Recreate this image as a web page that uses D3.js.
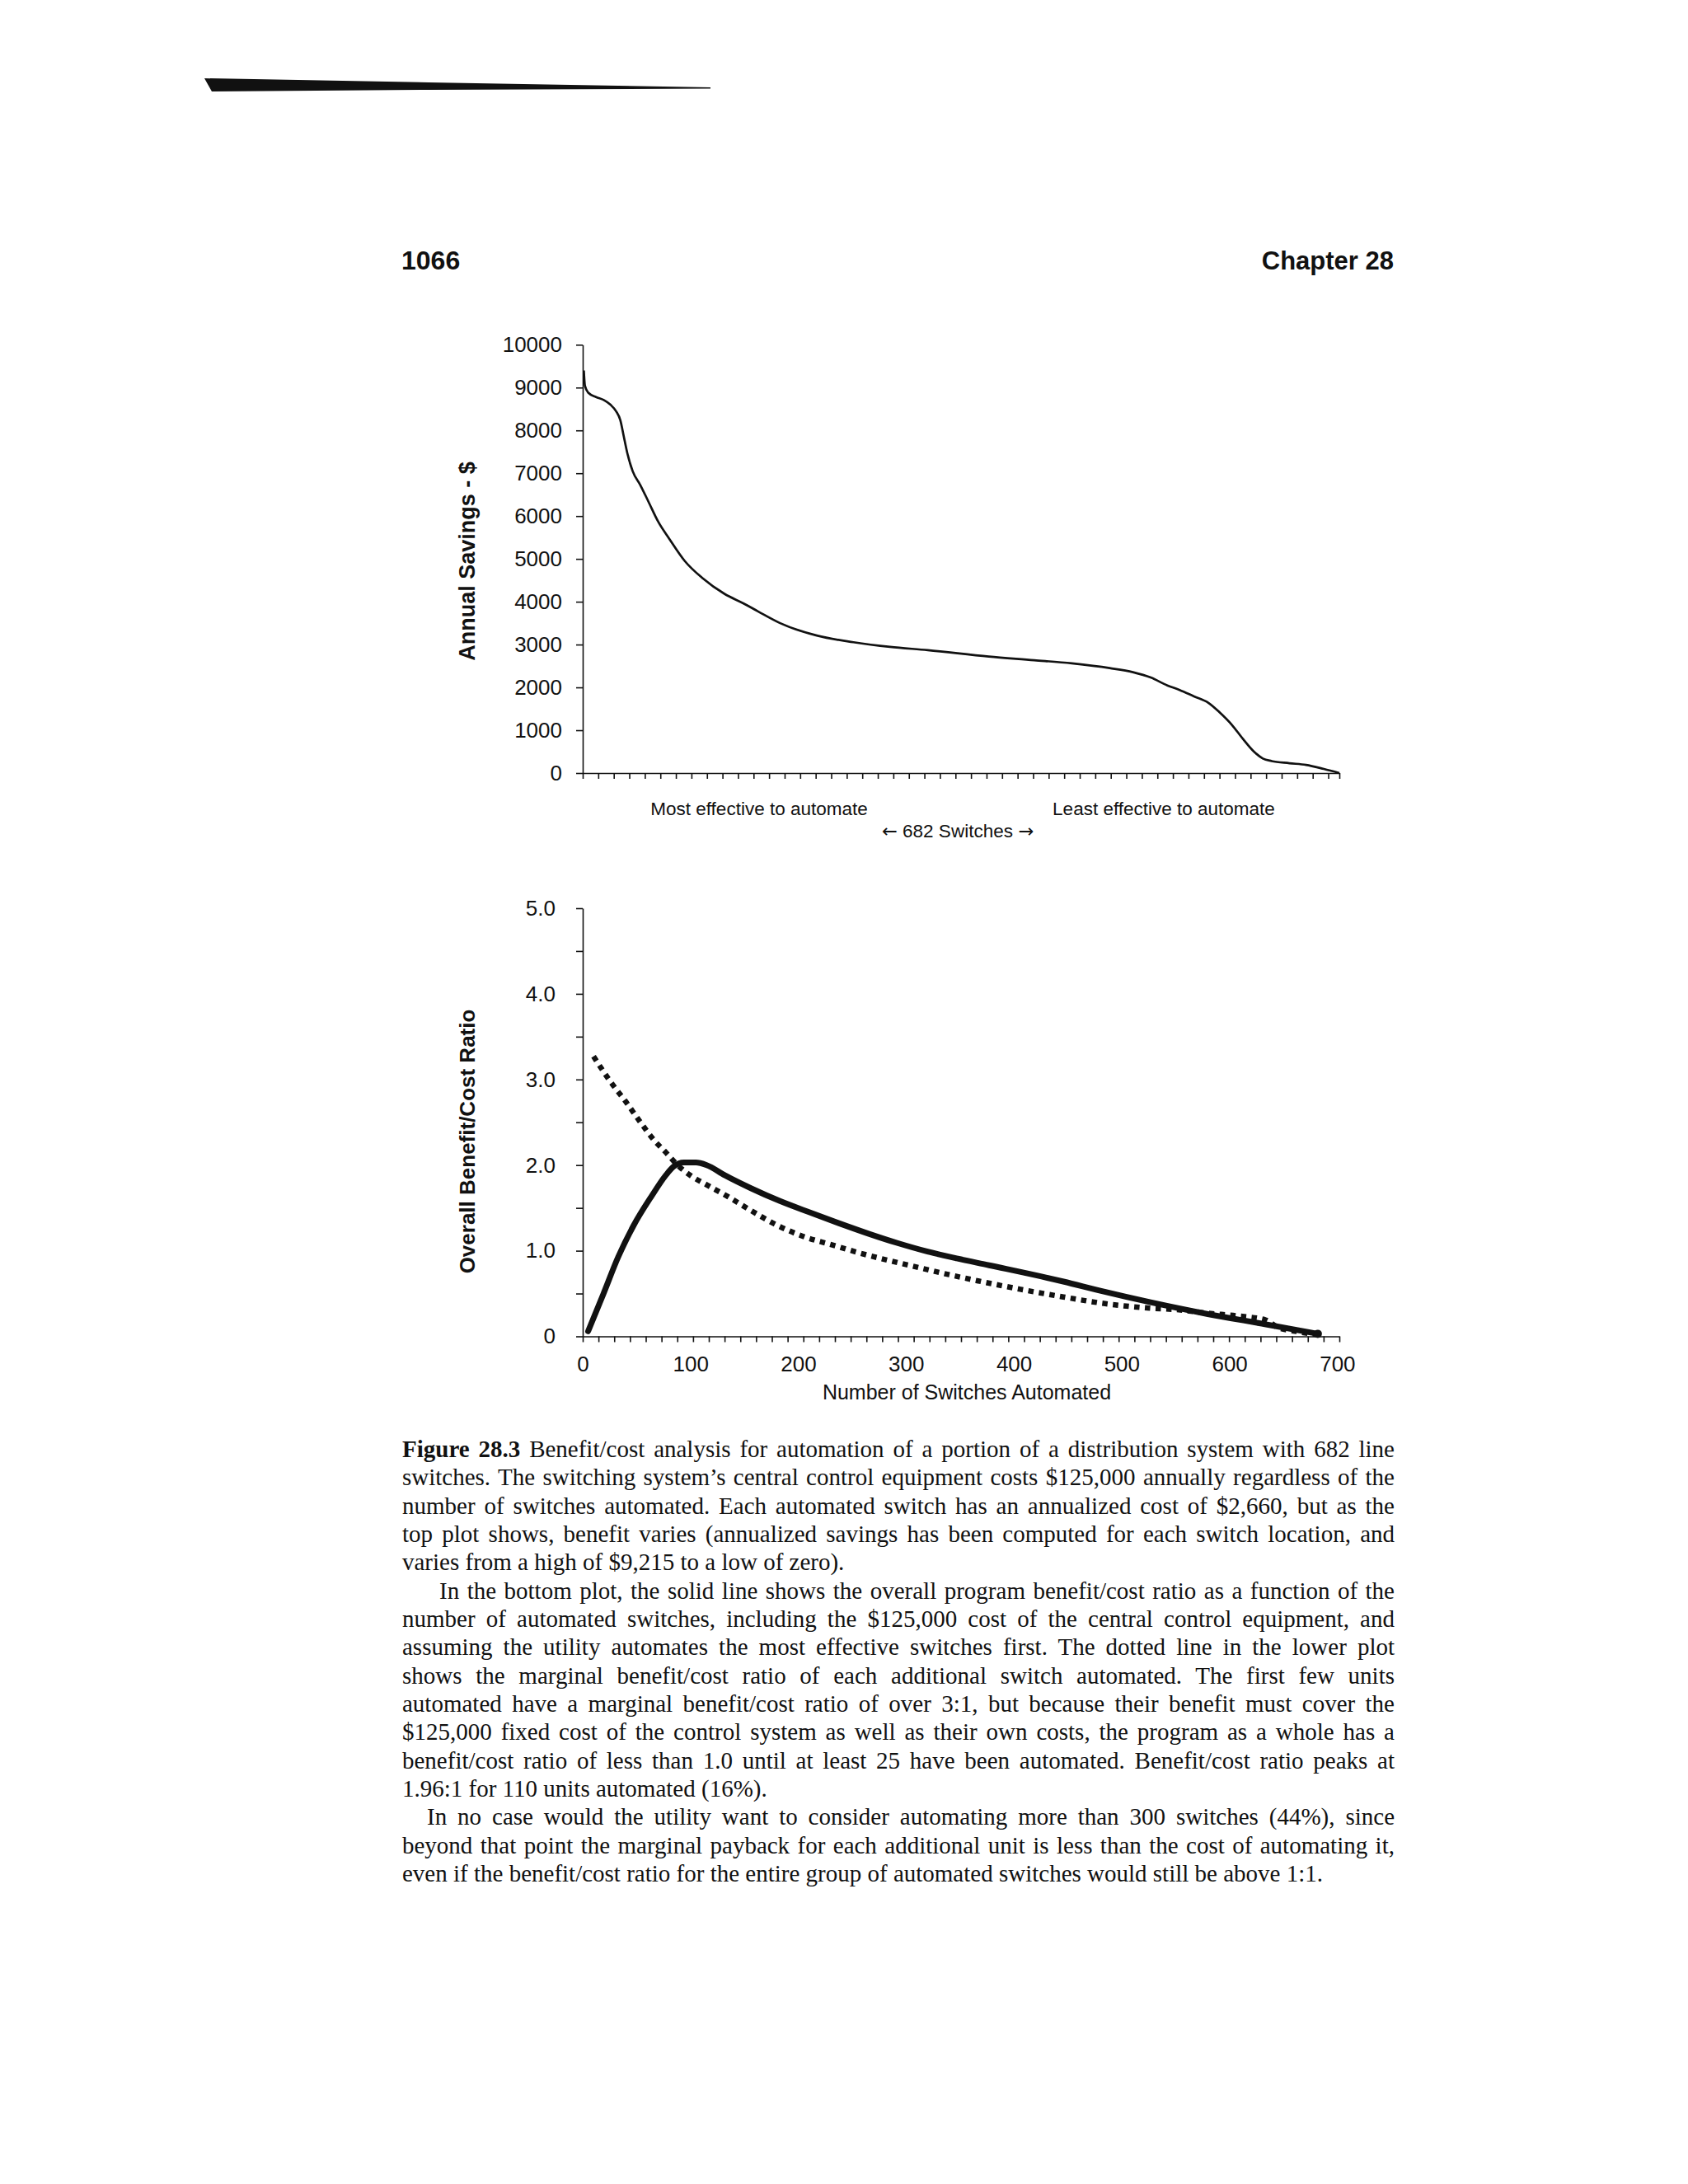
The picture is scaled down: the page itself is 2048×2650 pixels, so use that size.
<!DOCTYPE html>
<html>
<head>
<meta charset="utf-8">
<title>Figure 28.3 Benefit/cost analysis</title>
<script src="https://d3js.org/d3.v7.min.js"></script>
<style>
  body { margin: 0; background: #fff; }
  svg { display: block; }
  .chart text { font-family: "Liberation Sans", Arial, Helvetica, sans-serif; fill: #111; }
  .axis path, .axis line { stroke: #111; stroke-width: 1.6; }
  .axis text { font-size: 26px; }
  .arrow { font-family: "DejaVu Sans", sans-serif; }
  .caption text { font-family: "Liberation Serif", "Times New Roman", serif; font-size: 29px; fill: #111; }
</style>
</head>
<body>
<svg id="page" width="2048" height="2650"></svg>
<script>
// top plot: annual savings per switch, sorted most -> least effective
const switchRank    = [1, 2, 5, 12, 19, 25, 30, 34, 37, 40, 45, 52, 59, 68, 78, 92, 108, 128, 145, 158, 178, 211, 244, 277, 311, 366, 407, 441, 475, 496, 512, 527, 538, 551, 564, 574, 585, 595, 605, 613, 621, 637, 652, 668, 682];
const annualSavings = [9400, 9040, 8880, 8780, 8710, 8600, 8450, 8230, 7860, 7490, 7050, 6720, 6350, 5870, 5470, 4950, 4550, 4180, 3960, 3775, 3500, 3210, 3055, 2945, 2870, 2720, 2635, 2560, 2450, 2355, 2230, 2045, 1940, 1790, 1640, 1420, 1130, 800, 500, 340, 280, 230, 190, 95, 0];
const savingsTicks  = d3.range(0, 10001, 1000);

// bottom plot: overall (solid) and marginal (dotted) benefit/cost ratio
const automatedCount = [5, 19, 33, 47, 64, 77, 84, 94, 105, 115, 132, 156, 183, 210, 238, 265, 292, 320, 347, 377, 446, 481, 526, 580, 634, 682];
const overallRatio   = [0.06, 0.49, 0.93, 1.29, 1.64, 1.88, 1.98, 2.03, 2.03, 2.00, 1.88, 1.73, 1.58, 1.45, 1.32, 1.20, 1.09, 0.99, 0.91, 0.83, 0.64, 0.53, 0.40, 0.26, 0.14, 0.03];
const marginalCount  = [10, 26, 40, 53, 67, 77, 88, 101, 115, 135, 156, 180, 204, 231, 258, 286, 313, 340, 366, 406, 446, 486, 526, 553, 580, 607, 634, 644, 661, 682];
const marginalRatio  = [3.27, 2.97, 2.74, 2.51, 2.28, 2.15, 2.00, 1.87, 1.77, 1.63, 1.47, 1.30, 1.17, 1.07, 0.97, 0.88, 0.80, 0.72, 0.65, 0.55, 0.46, 0.38, 0.33, 0.31, 0.27, 0.24, 0.19, 0.11, 0.06, 0.02];
const ratioTicks     = d3.range(0, 5.01, 0.5);
const countTicks     = [0, 100, 200, 300, 400, 500, 600, 700];

const captionLines = [
  { b: "Figure 28.3", t: "Benefit/cost analysis for automation of a portion of a distribution system with 682 line", j: true },
  { t: "switches. The switching system\u2019s central control equipment costs $125,000 annually regardless of the", j: true },
  { t: "number of switches automated. Each automated switch has an annualized cost of $2,660, but as the", j: true },
  { t: "top plot shows, benefit varies (annualized savings has been computed for each switch location, and", j: true },
  { t: "varies from a high of $9,215 to a low of zero)." },
  { t: "In the bottom plot, the solid line shows the overall program benefit/cost ratio as a function of the", j: true, indent: 45 },
  { t: "number of automated switches, including the $125,000 cost of the central control equipment, and", j: true },
  { t: "assuming the utility automates the most effective switches first. The dotted line in the lower plot", j: true },
  { t: "shows the marginal benefit/cost ratio of each additional switch automated. The first few units", j: true },
  { t: "automated have a marginal benefit/cost ratio of over 3:1, but because their benefit must cover the", j: true },
  { t: "$125,000 fixed cost of the control system as well as their own costs, the program as a whole has a", j: true },
  { t: "benefit/cost ratio of less than 1.0 until at least 25 have been automated. Benefit/cost ratio peaks at", j: true },
  { t: "1.96:1 for 110 units automated (16%)." },
  { t: "In no case would the utility want to consider automating more than 300 switches (44%), since", j: true, indent: 30 },
  { t: "beyond that point the marginal payback for each additional unit is less than the cost of automating it,", j: true },
  { t: "even if the benefit/cost ratio for the entire group of automated switches would still be above 1:1." }
];

const svg = d3.select("#page");
const chart = svg.append("g").attr("class", "chart");

// scan artefact at the top of the page + running head
chart.append("path")
  .attr("d", "M248,95 L520,100 L862,106 L862,107.5 L520,109 L257,111 Z")
  .attr("fill", "#111");
chart.append("text").attr("x", 487).attr("y", 327)
  .attr("font-size", 32).attr("font-weight", "bold").text("1066");
chart.append("text").attr("x", 1691).attr("y", 327).attr("text-anchor", "end")
  .attr("font-size", 31).attr("font-weight", "bold").text("Chapter 28");

// ---------- top plot ----------
const xTop = d3.scaleLinear().domain([0, 682]).range([707, 1625]);
const yTop = d3.scaleLinear().domain([0, 10000]).range([938, 418.3]);

chart.append("g").attr("class", "axis")
  .attr("transform", `translate(0,${yTop(0)})`)
  .call(d3.axisBottom(xTop)
    .tickValues(d3.range(0, 682, 14).concat([682]))
    .tickSize(7).tickSizeOuter(0).tickFormat(""));

chart.append("g").attr("class", "axis")
  .attr("transform", `translate(${xTop(0)},0)`)
  .call(d3.axisLeft(yTop).tickValues(savingsTicks)
    .tickSize(8).tickPadding(17).tickSizeOuter(0).tickFormat(d3.format("d")));

chart.append("path")
  .datum(switchRank.map((s, i) => [s, annualSavings[i]]))
  .attr("fill", "none").attr("stroke", "#111").attr("stroke-width", 2.7)
  .attr("stroke-linejoin", "round")
  .attr("d", d3.line().x(d => xTop(d[0])).y(d => yTop(d[1])).curve(d3.curveMonotoneX));

chart.append("text")
  .attr("transform", "translate(576,681) rotate(-90)")
  .attr("text-anchor", "middle").attr("font-size", 27).attr("font-weight", "bold")
  .text("Annual Savings - $");

chart.append("text").attr("x", 921).attr("y", 989).attr("text-anchor", "middle")
  .attr("font-size", 22.5).text("Most effective to automate");
chart.append("text").attr("x", 1412).attr("y", 989).attr("text-anchor", "middle")
  .attr("font-size", 22.5).text("Least effective to automate");
const sw = chart.append("text").attr("x", 1162).attr("y", 1016).attr("text-anchor", "middle")
  .attr("font-size", 22.5);
sw.append("tspan").attr("class", "arrow").text("\u2190");
sw.append("tspan").text(" 682 Switches ");
sw.append("tspan").attr("class", "arrow").text("\u2192");

// ---------- bottom plot ----------
const xBot = d3.scaleLinear().domain([0, 702]).range([707, 1625]);
const yBot = d3.scaleLinear().domain([0, 5]).range([1621.5, 1102]);

chart.append("g").attr("class", "axis")
  .attr("transform", `translate(0,${yBot(0)})`)
  .call(d3.axisBottom(xBot)
    .tickValues(d3.range(0, 702.1, 702 / 48))
    .tickSize(7).tickSizeOuter(0).tickFormat(""));

chart.append("g").attr("class", "axis")
  .attr("transform", `translate(0,${yBot(0)})`)
  .call(d3.axisBottom(xBot).tickValues(countTicks)
    .tickSize(0).tickPadding(24).tickFormat(d3.format("d")))
  .call(g => g.select(".domain").remove());

chart.append("g").attr("class", "axis")
  .attr("transform", `translate(${xBot(0)},0)`)
  .call(d3.axisLeft(yBot).tickValues(ratioTicks)
    .tickSize(8).tickPadding(25).tickSizeOuter(0)
    .tickFormat(d => d === 0 ? "0" : (d % 1 === 0 ? d.toFixed(1) : "")));

const ratioLine = d3.line().x(d => xBot(d[0])).y(d => yBot(d[1])).curve(d3.curveMonotoneX);

chart.append("path")
  .datum(marginalCount.map((c, i) => [c, marginalRatio[i]]))
  .attr("fill", "none").attr("stroke", "#111").attr("stroke-width", 6.5)
  .attr("stroke-dasharray", "6.5,6.5")
  .attr("d", ratioLine);

chart.append("path")
  .datum(automatedCount.map((c, i) => [c, overallRatio[i]]))
  .attr("fill", "none").attr("stroke", "#111").attr("stroke-width", 7)
  .attr("stroke-linejoin", "round").attr("stroke-linecap", "round")
  .attr("d", ratioLine);

const lastIdx = automatedCount.length - 1;
chart.append("circle")
  .attr("cx", xBot(automatedCount[lastIdx])).attr("cy", yBot(overallRatio[lastIdx]))
  .attr("r", 5).attr("fill", "#111");

chart.append("text")
  .attr("transform", "translate(576,1385) rotate(-90)")
  .attr("text-anchor", "middle").attr("font-size", 26).attr("font-weight", "bold")
  .text("Overall Benefit/Cost Ratio");

chart.append("text").attr("x", 1173).attr("y", 1698).attr("text-anchor", "middle")
  .attr("font-size", 25).text("Number of Switches Automated");

// ---------- caption, justified line by line ----------
const cap = svg.append("g").attr("class", "caption");
const capLeft = 488, capRight = 1692, capTop = 1768, capStep = 34.33;

captionLines.forEach((ln, i) => {
  const x0 = capLeft + (ln.indent || 0);
  const t = cap.append("text").attr("x", x0).attr("y", capTop + i * capStep);
  if (ln.b) t.append("tspan").attr("font-weight", "bold").text(ln.b + " ");
  t.append("tspan").text(ln.t);
  if (ln.j) {
    const full = (ln.b ? ln.b + " " : "") + ln.t;
    const gaps = (full.match(/ /g) || []).length;
    const len = t.node().getComputedTextLength();
    t.style("word-spacing", ((capRight - x0 - len) / gaps) + "px");
  }
});
</script>
</body>
</html>
